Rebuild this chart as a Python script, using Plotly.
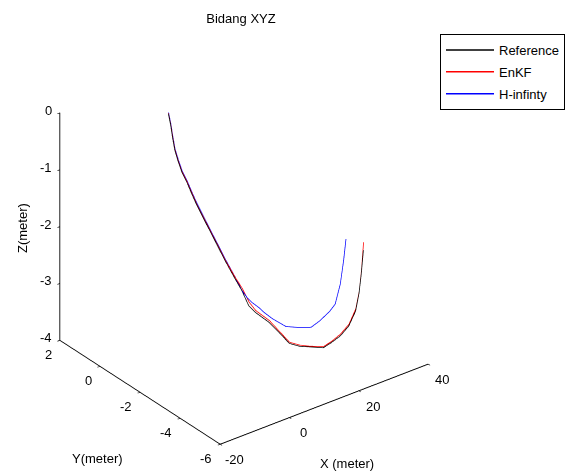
import plotly.graph_objects as go

# Reference trajectory (meter)
ref_x = [-0.26, 0.24, 0.51, 0.90, 1.43, 2.19, 3.11, 3.85, 4.74, 6.31, 8.20, 9.98, 11.76, 12.86, 13.67,
         14.45, 16.37, 17.57, 18.77, 19.97, 21.18, 23.06, 24.25, 25.65, 26.93, 28.03, 28.42, 28.69, 28.94]
ref_y = [0.00, -0.03, -0.07, -0.12, -0.18, -0.25, -0.33, -0.42, -0.52, -0.67, -0.85, -1.05, -1.25, -1.40, -1.60,
         -1.80, -2.15, -2.45, -2.75, -3.05, -3.35, -3.70, -3.90, -4.10, -4.30, -4.45, -4.55, -4.62, -4.68]
ref_z = [-0.02, -0.23, -0.43, -0.66, -0.84, -1.05, -1.22, -1.40, -1.60, -1.90, -2.25, -2.60, -2.92, -3.12, -3.36,
         -3.45, -3.59, -3.73, -3.88, -3.89, -3.86, -3.84, -3.73, -3.60, -3.41, -3.14, -2.82, -2.46, -2.04]

# EnKF estimate
enkf_x = [-0.24, 0.26, 0.55, 0.92, 1.46, 2.22, 3.14, 3.90, 4.78, 6.36, 8.24, 10.03, 11.82, 12.95, 13.80,
          14.55, 16.45, 17.62, 18.80, 20.00, 21.22, 23.12, 24.32, 25.72, 27.00, 28.10, 28.50, 28.76, 29.00]
enkf_y = [0.00, -0.03, -0.07, -0.12, -0.18, -0.25, -0.33, -0.42, -0.52, -0.67, -0.85, -1.05, -1.25, -1.40, -1.60,
          -1.80, -2.15, -2.45, -2.75, -3.05, -3.35, -3.70, -3.90, -4.10, -4.30, -4.45, -4.55, -4.62, -4.68]
enkf_z = [-0.01, -0.22, -0.42, -0.65, -0.83, -1.04, -1.21, -1.39, -1.59, -1.89, -2.24, -2.59, -2.90, -3.08, -3.30,
          -3.42, -3.56, -3.71, -3.86, -3.87, -3.85, -3.82, -3.71, -3.57, -3.38, -3.10, -2.78, -2.40, -1.90]

# H-infinity estimate
hinf_x = [-0.20, 0.30, 0.60, 0.98, 1.52, 2.28, 3.20, 3.95, 4.85, 6.42, 8.30, 10.08, 11.85, 12.90, 13.46,
          14.06, 15.16, 15.85, 17.04, 19.21, 21.70, 23.86, 25.54, 27.61, 28.50, 29.10, 29.60, 30.05]
hinf_y = [0.00, -0.03, -0.07, -0.12, -0.18, -0.25, -0.33, -0.42, -0.52, -0.67, -0.85, -1.05, -1.25, -1.40, -1.55,
          -1.70, -1.85, -2.00, -2.20, -2.50, -2.75, -2.95, -3.10, -3.25, -3.35, -3.50, -3.58, -3.62]
hinf_z = [0.00, -0.21, -0.41, -0.64, -0.82, -1.03, -1.20, -1.38, -1.58, -1.88, -2.23, -2.58, -2.90, -3.12, -3.22,
          -3.29, -3.37, -3.44, -3.53, -3.65, -3.67, -3.67, -3.56, -3.40, -3.28, -2.91, -2.49, -2.11]

x_ticks = [-20, 0, 20, 40]
y_ticks = [-6, -4, -2, 0, 2]
z_ticks = [-4, -3, -2, -1, 0]
x_range = [-20, 40]
y_range = [-6, 2]
z_range = [-4, 0]

FONT = "Liberation Sans, Arial, sans-serif"
TF = dict(family=FONT, size=13, color="black")

fig = go.Figure()
for name, xs, ys, zs, col in [("Reference", ref_x, ref_y, ref_z, "black"),
                              ("EnKF", enkf_x, enkf_y, enkf_z, "red"),
                              ("H-infinty", hinf_x, hinf_y, hinf_z, "blue")]:
    fig.add_trace(go.Scatter3d(x=xs, y=ys, z=zs, mode="lines", name=name, legendgroup=name,
                               line=dict(color=col, width=1.5)))

def ax(ticks, rng):
    return dict(range=rng, tickvals=ticks, showgrid=False, zeroline=False, showbackground=False,
                showline=True, linecolor="black", linewidth=2, ticks="outside", tickcolor="black",
                tickwidth=1.5, ticklen=3, showspikes=False, showticklabels=False, title=dict(text=""))

# tick labels as horizontal scene annotations (MATLAB style)
scene_ann = []
for t in x_ticks:
    scene_ann.append(dict(x=t, y=y_range[0], z=z_range[0], text=str(t), showarrow=False,
                          xanchor="center", yanchor="middle", xshift=14, yshift=-16, font=TF))
for t in y_ticks:
    scene_ann.append(dict(x=x_range[0], y=t, z=z_range[0], text=str(t), showarrow=False,
                          xanchor="right", yanchor="middle", xshift=-6, yshift=-15, font=TF))
for t in z_ticks:
    scene_ann.append(dict(x=x_range[0], y=y_range[1], z=t, text=str(t), showarrow=False,
                          xanchor="right", yanchor="middle", xshift=-6, yshift=2, font=TF))

AR = 1.23
fig.update_layout(
    width=571, height=475,
    margin=dict(l=0, r=0, t=0, b=0),
    paper_bgcolor="white", plot_bgcolor="white",
    font=TF,
    title=dict(text="Bidang XYZ", x=241/571, xanchor="center", y=1-18/475, yanchor="middle", font=TF),
    scene=dict(
        domain=dict(x=[0.0035, 0.8515], y=[0.05, 0.948]),
        xaxis=ax(x_ticks, x_range),
        yaxis=ax(y_ticks, y_range),
        zaxis=ax(z_ticks, z_range),
        aspectmode="manual", aspectratio=dict(x=AR, y=AR, z=AR),
        camera=dict(eye=dict(x=-0.529*1.657, y=-0.686*1.657, z=0.5*1.657),
                    up=dict(x=0, y=0, z=1), center=dict(x=0, y=0, z=0),
                    projection=dict(type="orthographic")),
        annotations=scene_ann,
    ),
    legend=dict(x=440/571, y=1-34/475, xanchor="left", yanchor="top",
                bordercolor="black", borderwidth=1, bgcolor="white", tracegroupgap=2,
                itemwidth=48, font=TF),
    annotations=[
        dict(text="X (meter)", x=347/571, y=1-463/475, xref="paper", yref="paper", showarrow=False,
             xanchor="center", yanchor="middle", font=TF),
        dict(text="Y(meter)", x=98/571, y=1-458/475, xref="paper", yref="paper", showarrow=False,
             xanchor="center", yanchor="middle", font=TF),
        dict(text="Z(meter)", x=22/571, y=1-228/475, xref="paper", yref="paper", showarrow=False,
             textangle=-90, xanchor="center", yanchor="middle", font=TF),
    ],
)

fig.write_html("out.html", config={"displayModeBar": False},
               post_script="document.body.style.margin='0';")
